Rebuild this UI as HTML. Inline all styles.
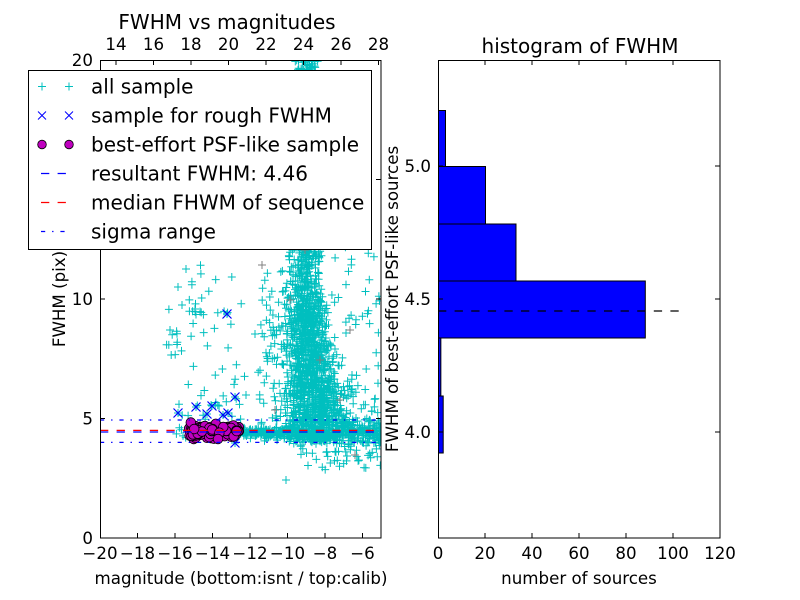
<!DOCTYPE html>
<html><head><meta charset="utf-8">
<style>
html,body{margin:0;padding:0;background:#fff;}
svg{display:block;}
text{font-family:"DejaVu Sans","Liberation Sans",sans-serif;font-size:16.67px;fill:#000;}
text.big{font-size:20px;}
</style></head><body>
<svg id="s" width="800" height="600" viewBox="0 0 800 600" xmlns="http://www.w3.org/2000/svg">
<rect width="800" height="600" fill="#fff"/>
<defs><clipPath id="c1"><rect x="100" y="60" width="281" height="478"/></clipPath></defs>

<!-- LEFT PLOT -->
<g clip-path="url(#c1)">
  <path id="cyan" fill="none" stroke="#00bfbf" stroke-width="1"/>
  <path id="grey" fill="none" stroke="#808080" stroke-width="1"/>
  <path id="bx" fill="none" stroke="#0000ff" stroke-width="1.2"/>
  <g id="mag" fill="#bf00bf" stroke="#000" stroke-width="0.8"></g>
  <line x1="100" y1="430.4" x2="381" y2="430.4" stroke="#ff0000" stroke-width="1.2" stroke-dasharray="8.3,8.3"/>
  <line x1="100" y1="432" x2="381" y2="432" stroke="#0000ff" stroke-width="1.2" stroke-dasharray="8.3,8.3"/>
  <line x1="100" y1="420" x2="381" y2="420" stroke="#0000ff" stroke-width="1.2" stroke-dasharray="4.2,6.9,1.4,6.9"/>
  <line x1="100" y1="442.4" x2="381" y2="442.4" stroke="#0000ff" stroke-width="1.2" stroke-dasharray="4.2,6.9,1.4,6.9"/>
</g>
<rect x="100.5" y="60.5" width="280.5" height="477.5" fill="none" stroke="#000" stroke-width="1"/>
<g stroke="#000" stroke-width="1">
  <path d="M137.5 538v-5M175 538v-5M212.5 538v-5M250 538v-5M287.5 538v-5M325 538v-5M362.5 538v-5"/>
  <path d="M116 60v5M153.5 60v5M191 60v5M228.5 60v5M266 60v5M303.5 60v5M341 60v5M378.5 60v5"/>
  <path d="M100 418.5h5M100 299h5M100 179.5h5M381 418.5h-5M381 299h-5M381 179.5h-5"/>
</g>
<g text-anchor="middle">
  <text x="100" y="559">−20</text>
  <text x="137.5" y="559">−18</text>
  <text x="175" y="559">−16</text>
  <text x="212.5" y="559">−14</text>
  <text x="250" y="559">−12</text>
  <text x="287.5" y="559">−10</text>
  <text x="325" y="559">−8</text>
  <text x="362.5" y="559">−6</text>
  <text x="116" y="50">14</text>
  <text x="153.5" y="50">16</text>
  <text x="191" y="50">18</text>
  <text x="228.5" y="50">20</text>
  <text x="266" y="50">22</text>
  <text x="303.5" y="50">24</text>
  <text x="341" y="50">26</text>
  <text x="378.5" y="50">28</text>
  <text class="big" x="227" y="29">FWHM vs magnitudes</text>
  <text x="241" y="584">magnitude (bottom:isnt / top:calib)</text>
  <text transform="translate(65,299) rotate(-90)">FWHM (pix)</text>
</g>
<g text-anchor="end">
  <text x="93" y="544">0</text>
  <text x="93" y="424.5">5</text>
  <text x="93" y="305">10</text>
  <text x="93" y="185.5">15</text>
  <text x="93" y="66">20</text>
</g>

<!-- LEGEND -->
<rect x="28.5" y="70.5" width="343" height="179" fill="#fff" stroke="#000" stroke-width="1"/>
<g>
  <path d="M38 86.5h8M42 82.5v8M65 86.5h8M69 82.5v8" stroke="#00bfbf" stroke-width="1" fill="none"/>
  <path d="M38 111.5l8 8M46 111.5l-8 8M65 111.5l8 8M73 111.5l-8 8" stroke="#0000ff" stroke-width="1" fill="none"/>
  <circle cx="42" cy="144.5" r="4.3" fill="#bf00bf" stroke="#000" stroke-width="0.8"/>
  <circle cx="69" cy="144.5" r="4.3" fill="#bf00bf" stroke="#000" stroke-width="0.8"/>
  <line x1="41" y1="173.5" x2="69" y2="173.5" stroke="#0000ff" stroke-width="1.2" stroke-dasharray="8.3,8.3"/>
  <line x1="41" y1="202.5" x2="69" y2="202.5" stroke="#ff0000" stroke-width="1.2" stroke-dasharray="8.3,8.3"/>
  <line x1="41" y1="231.5" x2="69" y2="231.5" stroke="#0000ff" stroke-width="1.2" stroke-dasharray="4.2,6.9,1.4,6.9"/>
  <text class="big" x="91" y="93.5">all sample</text>
  <text class="big" x="91" y="122.5">sample for rough FWHM</text>
  <text class="big" x="91" y="151.5">best-effort PSF-like sample</text>
  <text class="big" x="91" y="180.5">resultant FWHM: 4.46</text>
  <text class="big" x="91" y="209.5">median FHWM of sequence</text>
  <text class="big" x="91" y="238.5">sigma range</text>
</g>

<!-- RIGHT PLOT -->
<g fill="#0000ff" stroke="#000" stroke-width="1">
  <rect x="438.5" y="110.5" width="7" height="56"/>
  <rect x="438.5" y="166.5" width="47" height="57.5"/>
  <rect x="438.5" y="224" width="77.5" height="57"/>
  <rect x="438.5" y="281" width="206.8" height="57"/>
  <rect x="438.5" y="338" width="2.35" height="58"/>
  <rect x="438.5" y="396" width="4.7" height="57"/>
</g>
<line x1="438" y1="311" x2="682" y2="311" stroke="#000" stroke-width="1.2" stroke-dasharray="8.3,8.3"/>
<rect x="438.5" y="60.5" width="281.5" height="477.5" fill="none" stroke="#000" stroke-width="1"/>
<g stroke="#000" stroke-width="1">
  <path d="M485 538v-5M532 538v-5M579 538v-5M626 538v-5M673 538v-5M485 60v5M532 60v5M579 60v5M626 60v5M673 60v5"/>
  <path d="M438 166h5M438 299h5M438 432h5M720 166h-5M720 299h-5M720 432h-5"/>
</g>
<g text-anchor="middle">
  <text x="438" y="559">0</text>
  <text x="485" y="559">20</text>
  <text x="532" y="559">40</text>
  <text x="579" y="559">60</text>
  <text x="626" y="559">80</text>
  <text x="673" y="559">100</text>
  <text x="720" y="559">120</text>
  <text class="big" x="580" y="53">histogram of FWHM</text>
  <text x="579" y="584">number of sources</text>
  <text transform="translate(398,299) rotate(-90)">FWHM of best-effort PSF-like sources</text>
</g>
<g text-anchor="end">
  <text x="431" y="172">5.0</text>
  <text x="431" y="305">4.5</text>
  <text x="431" y="438">4.0</text>
</g>
</svg>
<script>
(function(){
function mb(a){return function(){a|=0;a=a+0x6D2B79F5|0;var t=Math.imul(a^a>>>15,1|a);t=t+Math.imul(t^t>>>7,61|t)^t;return((t^t>>>14)>>>0)/4294967296;};}
var R=mb(20240607);
function G(){var u=R()||1e-9,v=R();return Math.sqrt(-2*Math.log(u))*Math.cos(2*Math.PI*v);}
var d=[],g=[],i,x,y;
function P(x,y,arr){(arr||d).push('M'+(x-4).toFixed(1)+' '+y.toFixed(1)+'h8M'+x.toFixed(1)+' '+(y-4).toFixed(1)+'v8');}
// horizontal band
for(i=0;i<480;i++){x=240+Math.pow(R(),0.9)*145;var sd=2.2+(x-240)/140*4;P(x,433+G()*sd);}
// plume
for(i=0;i<1500;i++){var u=R();y=440-390*Math.pow(u,1.2);var cx=305+(y>330?(y-330)*0.1:0);var sx=(y<240?6:(y<320?6+(y-240)/80*5:11+(y-320)/110*7));P(cx+G()*sx,y+G()*2);}
// extra dense lower plume mass
for(i=0;i<450;i++){y=300+R()*125;var cx2=308+(y-300)*0.08;var sx2=9+(y-300)/125*6;P(cx2+G()*sx2,y);}
// left wing of plume
for(i=0;i<70;i++){x=258+R()*40;y=270+R()*160;P(x,y);}
// right flank near bottom
for(i=0;i<90;i++){x=320+Math.pow(R(),1.5)*58;y=385+R()*55;P(x,y);}
// below band
for(i=0;i<55;i++){x=300+R()*82;y=440+Math.pow(R(),1.5)*30;P(x,y);}
// scattered right
for(i=0;i<35;i++){x=330+R()*50;y=245+R()*150;P(x,y);}
// left sparse
for(i=0;i<30;i++){x=168+R()*78;y=265+R()*150;P(x,y);}
for(i=0;i<9;i++){P(176+G()*3,345+G()*6);}
for(i=0;i<14;i++){P(197+G()*4,295+G()*14);}
for(i=0;i<14;i++){P(180+R()*62,395+R()*25);}
for(i=0;i<5;i++){P(174+R()*12,425+R()*14);}
P(286,480);P(186,269);P(178,287);P(170,330);P(182,305);P(352,375);P(346,333);P(246,395);P(255,334);
var bxp=[[178,413],[196,407],[207,414],[223,415],[228,413],[227,314],[235,397],[235,443],[212,406]];
bxp.forEach(function(p){P(p[0],p[1]);});
var gp=[[262,265],[350,330],[320,360],[290,300],[340,400],[275,410],[355,455],[305,250]];
gp.forEach(function(p){P(p[0],p[1],g);});
document.getElementById('cyan').setAttribute('d',d.join(''));
document.getElementById('grey').setAttribute('d',g.join(''));
var b=[];bxp.forEach(function(p){var s=4.5;b.push('M'+(p[0]-s)+' '+(p[1]-s)+'l'+2*s+' '+2*s+'M'+(p[0]+s)+' '+(p[1]-s)+'l'+(-2*s)+' '+2*s);});
document.getElementById('bx').setAttribute('d',b.join(''));
var m=document.getElementById('mag'),h='';
for(i=0;i<170;i++){x=189+R()*50;y=431+G()*3.2;if(y<422)y=422;if(y>439)y=439;h+='<circle cx="'+x.toFixed(1)+'" cy="'+y.toFixed(1)+'" r="4.8"/>';}
h+='<circle cx="218" cy="439" r="4.8"/>';
m.innerHTML=h;
})();
</script>
</body></html>
